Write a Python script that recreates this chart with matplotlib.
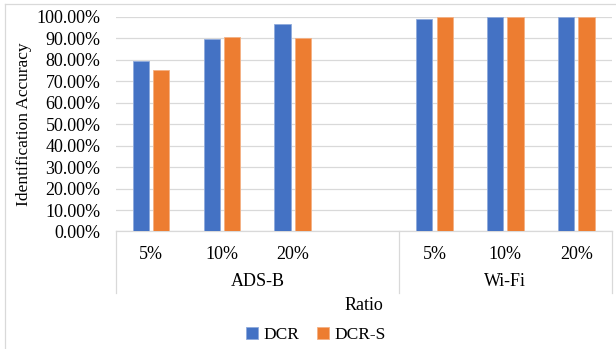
import matplotlib.pyplot as plt
from matplotlib.lines import Line2D
from matplotlib.ticker import PercentFormatter
import numpy as np

plt.rcParams['font.family'] = ['Liberation Serif', 'DejaVu Serif']

groups = ['ADS-B', 'Wi-Fi']
ratios = ['5%', '10%', '20%']
dcr_ads = [0.796, 0.899, 0.966]
dcrs_ads = [0.752, 0.906, 0.902]
dcr_wifi = [0.989, 0.999, 1.000]
dcrs_wifi = [0.999, 0.999, 0.999]

blue = '#4472C4'
orange = '#ED7D31'
grid = '#D9D9D9'

# slot 3 is left empty between the two groups
pos = np.array([0, 1, 2, 4, 5, 6])
dcr = dcr_ads + dcr_wifi
dcrs = dcrs_ads + dcrs_wifi

fig = plt.figure(figsize=(6.16, 3.49), dpi=100)
ax = fig.add_axes([0.1878, 0.3367, 0.8052, 0.6146])

w = 0.23
off = 0.144
ax.bar(pos - off, dcr, w, color=blue, edgecolor='#8FAADC', linewidth=0.6, zorder=3, label='DCR')
ax.bar(pos + off, dcrs, w, color=orange, edgecolor='#F4B183', linewidth=0.6, zorder=3, label='DCR-S')

ax.set_xlim(-0.5, 6.5)
ax.set_ylim(0, 1)
ax.set_yticks(np.arange(0, 1.01, 0.1))
ax.yaxis.set_major_formatter(PercentFormatter(1.0, decimals=2))
ax.grid(axis='y', color=grid, linewidth=0.9, zorder=0)
for s in ['top', 'right', 'left']:
    ax.spines[s].set_visible(False)
ax.spines['bottom'].set_color(grid)
ax.spines['bottom'].set_linewidth(0.9)
ax.tick_params(axis='y', length=0, labelsize=13, pad=11)
ax.tick_params(axis='x', length=0, labelsize=13, pad=10.5)
ax.set_xticks(pos)
ax.set_xticklabels(ratios * 2)
ax.set_ylabel('Identification Accuracy', fontsize=12.5, labelpad=3)

# group labels and separators of the two-level category axis
trans = ax.get_xaxis_transform()
for xs in [-0.5, 3.5, 6.5]:
    ax.add_line(Line2D([xs, xs], [0, -0.285], transform=trans, color=grid,
                       linewidth=0.9, clip_on=False))
ax.text(1.5, -0.235, groups[0], transform=trans, ha='center', va='center', fontsize=13)
ax.text(5.0, -0.235, groups[1], transform=trans, ha='center', va='center', fontsize=13)
ax.text(3.0, -0.345, 'Ratio', transform=trans, ha='center', va='center', fontsize=13)

fig.legend(loc='center', bbox_to_anchor=(0.513, 0.04), ncol=2, frameon=False,
           fontsize=12.5, handlelength=0.7, handleheight=0.7, handletextpad=0.3,
           columnspacing=1.0)

# light chart frame on the top and left edges
fig.add_artist(Line2D([5 / 616, 1], [1 - 4 / 349, 1 - 4 / 349], color=grid, linewidth=0.9))
fig.add_artist(Line2D([5 / 616, 5 / 616], [0, 1 - 4 / 349], color=grid, linewidth=0.9))

fig.savefig('out.png', dpi=100)
